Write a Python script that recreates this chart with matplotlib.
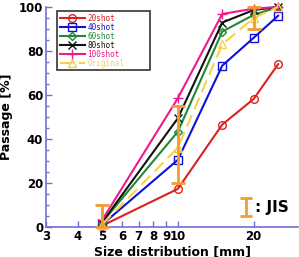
import matplotlib
matplotlib.use("Agg")
import matplotlib.pyplot as plt
from matplotlib.ticker import FixedLocator, NullFormatter, MultipleLocator

sizes = [5, 10, 15, 20, 25]
shot20 = [0.5, 17.3, 46.5, 58.2, 74.0]
shot40 = [1.0, 30.5, 73.3, 86.0, 96.0]
shot60 = [2.0, 43.3, 88.8, 96.4, 100.0]
shot80 = [2.0, 49.4, 92.9, 98.6, 100.0]
shot100 = [3.0, 58.5, 96.8, 99.2, 100.0]
original = [1.0, 36.0, 83.0, 95.0, 100.0]

jis_sizes = [5, 10, 20]
jis_low = [0, 20, 90]
jis_high = [10, 55, 100]

labels = ["20shot", "40shot", "60shot", "80shot", "100shot", "Original"]
x_ticks = [3, 4, 5, 6, 7, 8, 9, 10, 20]
x_ticklabels = ["3", "4", "5", "6", "7", "8", "9", "10", "20"]
y_ticks = [0, 20, 40, 60, 80, 100]

fig = plt.figure(figsize=(2.99, 2.57), dpi=100)
ax = fig.add_axes([0.154, 0.117, 0.843, 0.856])

axis_col = "#7070d8"
orange = "#f39a30"

series = [shot20, shot40, shot60, shot80, shot100, original]
colors = ["#dd2020", "#1010d8", "#208a30", "#111111", "#ee1a8a", "#f5d24a"]
markers = ["o", "s", "D", "x", "+", "^"]
msizes = [5.5, 5.5, 4.5, 6, 7, 6]
styles = ["-", "-", "-", "-", "-", (0, (6, 3))]

handles = []
for ys, c, m, ms, ls, lab in zip(series, colors, markers, msizes, styles, labels):
    h, = ax.plot(sizes, ys, color=c, marker=m, markersize=ms, mfc="none",
                 mec=c, mew=1.0, linewidth=1.5, linestyle=ls, label=lab,
                 clip_on=False, zorder=3)
    handles.append(h)

# JIS error bars
centers = [(lo + hi) / 2 for lo, hi in zip(jis_low, jis_high)]
err = [[c - lo for c, lo in zip(centers, jis_low)],
       [hi - c for c, hi in zip(centers, jis_high)]]
ax.errorbar(jis_sizes, centers, yerr=err, fmt="none", ecolor=orange,
            elinewidth=2, capsize=5, capthick=2, clip_on=False, zorder=4)

ax.set_xscale("log")
ax.set_xlim(3, 30)
ax.set_ylim(0, 100)

ax.xaxis.set_major_locator(FixedLocator(x_ticks))
ax.set_xticklabels(x_ticklabels)
ax.xaxis.set_minor_locator(FixedLocator([]))
ax.xaxis.set_minor_formatter(NullFormatter())
ax.set_yticks(y_ticks)
ax.yaxis.set_minor_locator(MultipleLocator(5))

for s in ["top", "right"]:
    ax.spines[s].set_visible(False)
for s in ["left", "bottom"]:
    ax.spines[s].set_color(axis_col)
    ax.spines[s].set_linewidth(1.2)

ax.tick_params(which="both", direction="in", color=axis_col, width=1)
ax.tick_params(which="major", length=4, labelsize=8.5, pad=2)
ax.tick_params(which="minor", length=2.5)
for t in ax.get_xticklabels() + ax.get_yticklabels():
    t.set_fontweight("bold")

ax.set_ylabel("Passage [%]", fontsize=9, fontweight="bold", labelpad=4)
ax.set_xlabel("Size distribution [mm]", fontsize=9, fontweight="bold", labelpad=2)

leg = ax.legend(handles=handles, loc="upper left",
                bbox_to_anchor=(0.044, 0.723, 0.369, 0.259), mode="expand",
                prop={"family": "DejaVu Sans Mono", "size": 5.5},
                frameon=True, fancybox=False, edgecolor="black",
                handlelength=3.3, handletextpad=0.3, labelspacing=0.0,
                borderpad=0.35, borderaxespad=0, shadow=False)
leg.get_frame().set_linewidth(1.2)
for txt, c in zip(leg.get_texts(), colors):
    txt.set_color(c)

# JIS annotation
ax.errorbar([18.7], [9.0], yerr=[[4.0], [4.0]], fmt="none", ecolor=orange,
            elinewidth=2, capsize=4, capthick=2, zorder=4)
ax.text(20.3, 9.0, ": JIS", fontsize=11, fontweight="bold", va="center", ha="left")

fig.savefig("out.png", dpi=100)
